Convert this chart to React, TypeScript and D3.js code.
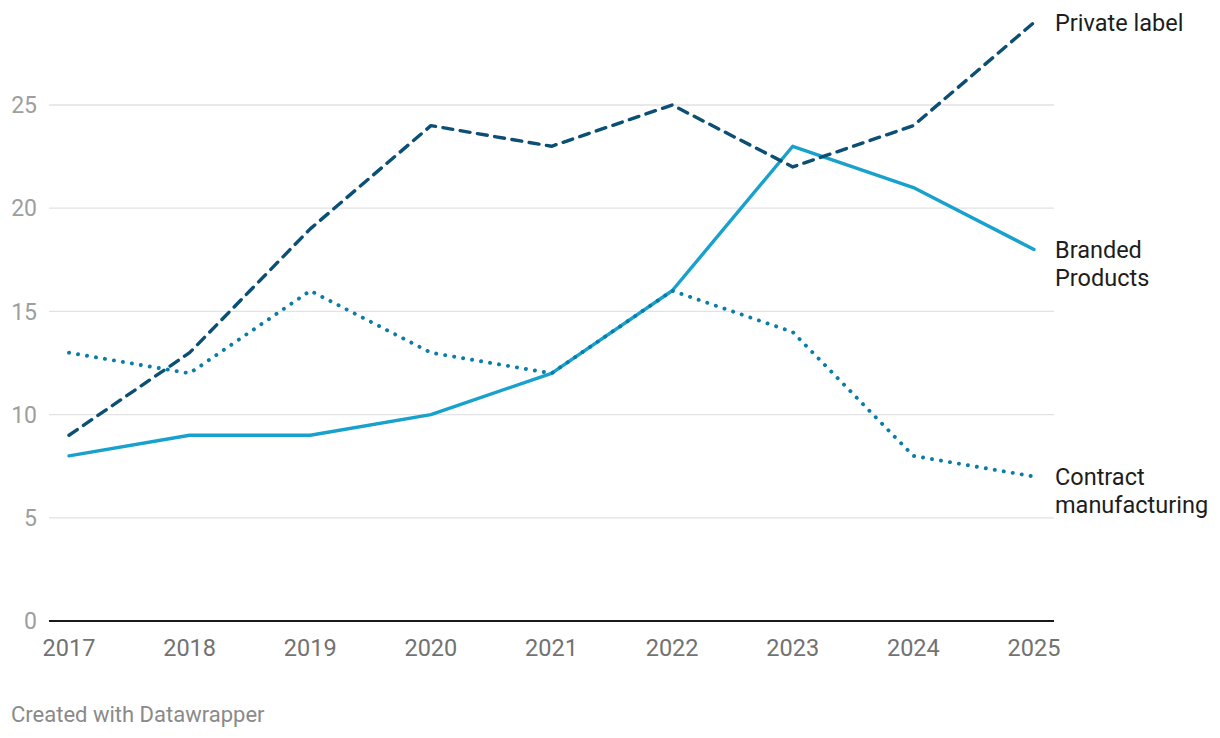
import * as d3 from 'd3';

const years = [2017, 2018, 2019, 2020, 2021, 2022, 2023, 2024, 2025];
const privateLabel = [9, 13, 19, 24, 23, 25, 22, 24, 29];
const branded = [8, 9, 9, 10, 12, 16, 23, 21, 18];
const contract = [13, 12, 16, 13, 12, 16, 14, 8, 7];
const yTicks = [0, 5, 10, 15, 20, 25];

const WIDTH = 1220;
const HEIGHT = 738;
const FONT = 'Roboto, "Noto Sans", sans-serif';

const seriesList = [
  { name: ['Branded', 'Products'], values: branded, color: '#18a1cd', dash: undefined as string | undefined, width: 3.4 },
  { name: ['Contract', 'manufacturing'], values: contract, color: '#0a7ca8', dash: '0.1 9', width: 3.9 },
  { name: ['Private label'], values: privateLabel, color: '#0b4f74', dash: '10 7.5', width: 3.4 },
];

export default function App() {
  const x = d3.scalePoint<number>().domain(years).range([69, 1034]);
  const y = d3.scaleLinear().domain([0, 25]).range([621, 105]);

  const line = (vals: number[]) =>
    d3.line<number>()
      .x((_, i) => x(years[i])!)
      .y((d) => y(d))(vals) || '';

  return (
    <svg
      width={WIDTH}
      height={HEIGHT}
      style={{ position: 'absolute', left: 0, top: 0, background: '#fff', fontFamily: FONT }}
    >
      {/* gridlines */}
      {yTicks.filter((t) => t > 0).map((t) => (
        <line key={t} x1={49} x2={1054} y1={y(t)} y2={y(t)} stroke="#e2e2e2" strokeWidth={1.3} />
      ))}
      <line x1={49} x2={1054} y1={y(0)} y2={y(0)} stroke="#1a1a1a" strokeWidth={2} />

      {/* y labels */}
      {yTicks.map((t) => (
        <text key={t} x={37} y={y(t)} dy="0.36em" textAnchor="end" fontSize={23} fill="#9e9e9e">
          {t}
        </text>
      ))}

      {/* x labels */}
      {years.map((yr) => (
        <text key={yr} x={x(yr)!} y={656} textAnchor="middle" fontSize={23.5} fill="#727272">
          {yr}
        </text>
      ))}

      {/* lines */}
      {seriesList.map((s) => (
        <path
          key={s.name.join(' ')}
          d={line(s.values)}
          fill="none"
          stroke={s.color}
          strokeWidth={s.width}
          strokeDasharray={s.dash}
          strokeLinecap="round"
          strokeLinejoin="round"
        />
      ))}

      {/* series labels */}
      {seriesList.map((s) => {
        const last = s.values[s.values.length - 1];
        return (
          <text key={s.name.join(' ')} x={1055} y={y(last)} fontSize={23.5} fill="#1d1d1d">
            {s.name.map((n, i) => (
              <tspan key={n} x={1055} dy={i === 0 ? '0.35em' : 28}>
                {n}
              </tspan>
            ))}
          </text>
        );
      })}

      <text x={11} y={722} fontSize={22} fill="#8a8a8a">
        Created with Datawrapper
      </text>
    </svg>
  );
}
